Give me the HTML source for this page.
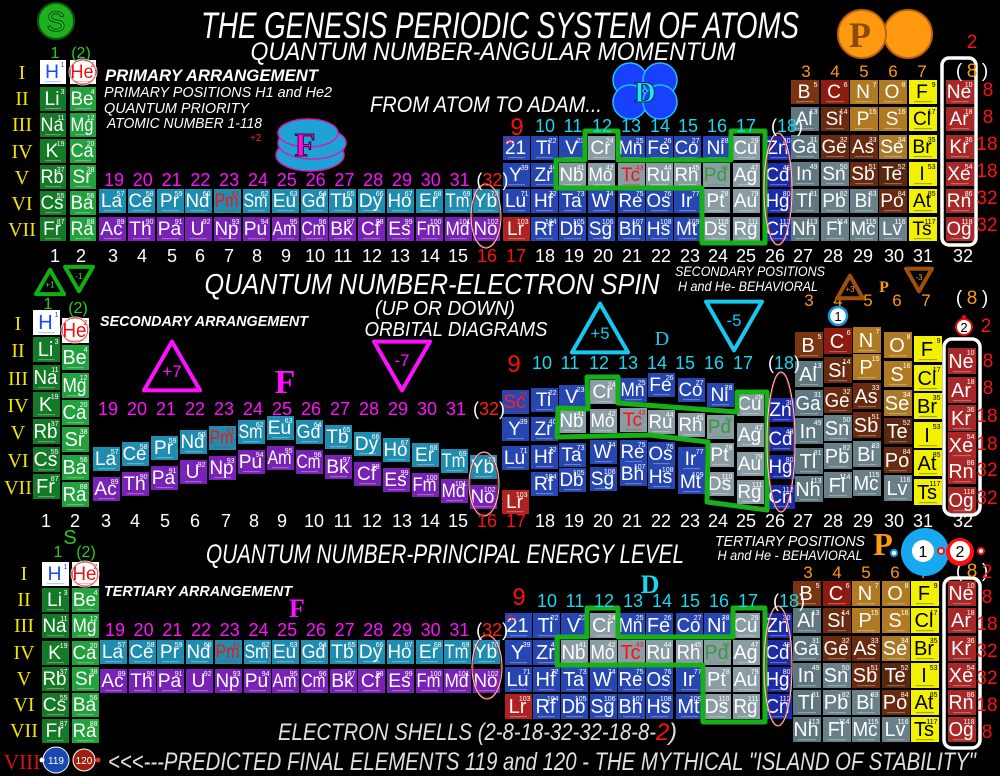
<!DOCTYPE html>
<html><head><meta charset="utf-8"><style>
html,body{margin:0;padding:0;background:#000;width:1000px;height:776px;overflow:hidden}
svg{display:block}
</style></head><body>
<svg id="s" xmlns="http://www.w3.org/2000/svg" width="1000" height="776" viewBox="0 0 1000 776">
<rect width="1000" height="776" fill="#000"/>
<g id="deco"></g>
<g id="cells"></g>
<g id="over"></g>
</svg>
<script>
var NS="http://www.w3.org/2000/svg";
var cells=document.getElementById('cells'),over=document.getElementById('over'),deco=document.getElementById('deco');
function el(p,n,a){var e=document.createElementNS(NS,n);for(var k in a)e.setAttribute(k,a[k]);p.appendChild(e);return e;}
function T(x,y,s,sz,fill,o){o=o||{};var a={x:x,y:y,'font-size':sz,fill:fill,'font-family':o.f||'"Liberation Sans",sans-serif','text-anchor':o.a||'start'};
 if(o.i)a['font-style']='italic';if(o.b)a['font-weight']='bold';if(o.w){a.textLength=o.w;a.lengthAdjust='spacingAndGlyphs';}
 if(o.st){a.stroke=o.st;a['stroke-width']=o.sw||1;}
 var e=el(o.p||over,'text',a);e.textContent=s;return e;}
var G1=[['H',1],['Li',3],['Na',11],['K',19],['Rb',37],['Cs',55],['Fr',87]];
var G2=[['He',2],['Be',4],['Mg',12],['Ca',20],['Sr',38],['Ba',56],['Ra',88]];
var LAN=['La','Ce','Pr','Nd','Pm','Sm','Eu','Gd','Tb','Dy','Ho','Er','Tm','Yb'];
var ACT=['Ac','Th','Pa','U','Np','Pu','Am','Cm','Bk','Cf','Es','Fm','Md','No'];
var D=[['Sc','Y','Lu','Lr'],['Ti','Zr','Hf','Rf'],['V','Nb','Ta','Db'],['Cr','Mo','W','Sg'],['Mn','Tc','Re','Bh'],['Fe','Ru','Os','Hs'],['Co','Rh','Ir','Mt'],['Ni','Pd','Pt','Ds'],['Cu','Ag','Au','Rg'],['Zn','Cd','Hg','Cn']];
var DN=[[21,39,71,103],[22,40,72,104],[23,41,73,105],[24,42,74,106],[25,43,75,107],[26,44,76,108],[27,45,77,109],[28,46,78,110],[29,47,79,111],[30,48,80,112]];
var GREY={Cr:1,Cu:1,Nb:1,Mo:1,Tc:1,Ru:1,Rh:1,Pd:1,Ag:1,Pt:1,Au:1,Ds:1,Rg:1};
var P=[['B','Al','Ga','In','Tl','Nh'],['C','Si','Ge','Sn','Pb','Fl'],['N','P','As','Sb','Bi','Mc'],['O','S','Se','Te','Po','Lv'],['F','Cl','Br','I','At','Ts'],['Ne','Ar','Kr','Xe','Rn','Og']];
var PN=[[5,13,31,49,81,113],[6,14,32,50,82,114],[7,15,33,51,83,115],[8,16,34,52,84,116],[9,17,35,53,85,117],[10,18,36,54,86,118]];
var PC={B:'#7a3410',C:'#8c1c10',N:'#b07a22',O:'#b07a22',F:'#f2f200',Ne:'#a82828',Al:'#5f7880',Si:'#6a2a10',P:'#b07a22',S:'#b07a22',Cl:'#f2f200',Ar:'#a82828',
Ga:'#5f7880',Ge:'#6a2a10',As:'#6a2a10',Se:'#a87a2a',Br:'#f2f200',Kr:'#a82828',In:'#5f7880',Sn:'#6a8088',Sb:'#6a2a10',Te:'#5a2810',I:'#f2f200',Xe:'#a82828',
Tl:'#5f7880',Pb:'#6a8088',Bi:'#6a8088',Po:'#6a2a10',At:'#f2f200',Rn:'#a82828',Nh:'#5f7880',Fl:'#6a8088',Mc:'#6a8088',Lv:'#6a8088',Ts:'#f2f200',Og:'#a82828'};
function cell(x,y,w,h,sym,num,bg,tc){
 el(cells,'rect',{x:x,y:y,width:w,height:h,fill:bg});
 var fs=Math.min(20,h*0.8);
 var t=T(x+w/2-1,y+h*0.76,sym,fs,tc||'#fff',{a:'middle',p:cells});
 var L=0;try{L=t.getComputedTextLength();}catch(e){}
 if(L>w-3){t.setAttribute('textLength',w-3);t.setAttribute('lengthAdjust','spacingAndGlyphs');}
 T(x+w-1.5,y+7,String(num),7,tc||'#fff',{a:'end',p:cells});
 el(cells,'rect',{x:x+5,y:y+h-3,width:w-10,height:1.2,fill:tc||'#fff',opacity:0.3});
}
function section(S){
 for(var i=0;i<7;i++){
  var s=G1[i];cell(S.g1x,S.g1y[i],S.gw,S.gh,s[0],s[1],i==0?'#fff':'#137a25',i==0?'#1648ff':null);
  s=G2[i];cell(S.g2x,S.g2y[i],S.gw,S.gh,s[0],s[1],i==0?'#fff':'#22a23c',i==0?'#ee1111':null);
 }
 for(i=0;i<14;i++){
  cell(S.lx[i],S.ly[i],27,S.lh,LAN[i],57+i,'#1f8db0',LAN[i]=='Pm'?'#ff1010':null);
  cell(S.lx[i],S.ay[i],27,S.lh,ACT[i],89+i,'#7a22b8');
 }
 for(var c=0;c<10;c++)for(var r=0;r<4;r++){
  var sy=D[c][r],bg=GREY[sy]?'#8a9ca4':(c==9?'#1c2ca8':'#2646b2');if(sy=='Lr')bg='#b02222';
  var tc=sy=='Tc'?'#ff1010':(sy=='Pd'?'#3a9a3a':null);var lab=sy;
  if(sy=='Sc'&&S.scNum)lab='21';
  if(sy=='Sc'&&!S.scNum)tc='#ff2020';
  cell(S.dx[c],S.dy[c][r],27,S.dh,lab,S.scNum&&sy=='Sc'?'':DN[c][r],bg,tc);
  if(sy=='Sc'&&S.scNum)T(S.dx[c]+2,S.dy[c][r]+8,'Sc',8,'#ff2020',{p:cells});
 }
 for(c=0;c<6;c++)for(r=0;r<6;r++){
  sy=P[c][r];cell(S.px[c],S.py[c][r],28,S.ph,sy,PN[c][r],PC[sy],PC[sy]=='#f2f200'?'#000':null);
 }
}
function rep(a,n){var r=[];for(var i=0;i<n;i++)r.push(a);return r;}
function seq(s,d,n){var r=[];for(var i=0;i<n;i++)r.push(Math.round(s+i*d));return r;}
// TOP
section({g1x:40,g2x:70,gw:26,gh:24,g1y:[60,87,113,139,165,191,217],g2y:[60,87,113,139,165,191,217],
 lx:seq(99,28.8,14),ly:rep(189,14),ay:rep(217,14),lh:24,
 dx:[503,531,559,588,618,646,674,703,733,765],dy:rep([136,163,189,217],10),dh:24,scNum:1,
 px:[791,821,850,879,909,946],py:rep([80,107,135,162,189,217],6),ph:24});
// MIDDLE
var lt=[447,442,436,430,426,420,416,420,425,432,438,443,449,455];
section({g1x:33,g2x:62,gw:27,gh:25,g1y:seq(310,27.3,7),g2y:seq(318,27.3,7),
 lx:seq(93,29,14),ly:lt,ay:lt.map(function(v){return v+30}),lh:24,
 dx:[502,531,559,590,620,648,678,707,737,768],
 dy:[[390,417,446,490],[388,417,445,472],[385,409,443,468],[380,409,440,467],[378,408,440,462],[373,410,442,465],[378,413,447,470],[383,415,443,472],[392,423,452,480],[398,427,455,485]],dh:24,scNum:0,
 px:[795,824,853,884,914,948],py:[[332,361,390,418,448,476],[328,357,387,415,443,472],[327,354,383,412,441,470],[332,361,390,418,447,475],[336,365,393,422,450,479],[348,377,405,432,458,487]],ph:26});
// BOTTOM
section({g1x:42,g2x:72,gw:27,gh:24,g1y:seq(562,26.2,7),g2y:seq(562,26.2,7),
 lx:seq(100,28.7,14),ly:rep(640,14),ay:rep(669,14),lh:24,
 dx:[505,533,561,590,618,646,676,704,733,765],dy:rep([613,640,667,694],10),dh:25,scNum:1,
 px:[793,823,852,882,911,948],py:rep([581,608,636,663,690,717],6),ph:25});

function poly(pts,st,sw,fill){el(over,'polygon',{points:pts,fill:fill||'none',stroke:st,'stroke-width':sw,'stroke-linejoin':'round'});}
poly('585,131 618,131 618,160 731,160 731,131 765,131 765,243 702,243 702,188 556,188 556,160 585,160','#18b018',5);
poly('587,377 618,377 618,403 737,412 737,392 767,392 767,510 707,502 708,442 650,435 557,437 558,408 588,409','#18b018',5);
poly('587,608 618,608 618,637 733,637 733,608 765,608 765,722 703,722 703,665 557,665 557,637 587,637','#18b018',5);
function ell(cx,cy,rx,ry){el(over,'ellipse',{cx:cx,cy:cy,rx:rx,ry:ry,fill:'none',stroke:'#f4d0d0','stroke-width':1});el(over,'ellipse',{cx:cx,cy:cy,rx:rx-1.2,ry:ry-1,fill:'none',stroke:'#d02020','stroke-width':0.7});}
ell(486,216,15,32);ell(778,189,14,56);ell(83,72,14,13);
ell(484,484,15,32);ell(781,442,14,70);ell(75,330,14,13);
ell(487,667,15,32);ell(778,666,14,60);ell(85,574,14,13);
el(over,'rect',{x:942,y:58,width:34,height:187,rx:7,fill:'none',stroke:'#fff','stroke-width':3.5});
el(over,'rect',{x:944,y:339,width:36,height:176,rx:8,fill:'none',stroke:'#fff','stroke-width':3.5});
el(over,'rect',{x:944,y:578,width:36,height:170,rx:8,fill:'none',stroke:'#fff','stroke-width':3.5});

T(500,38,'THE GENESIS PERIODIC SYSTEM OF ATOMS',37,'#fff',{a:'middle',i:1,w:598});
T(493,60,'QUANTUM NUMBER-ANGULAR MOMENTUM',25,'#fff',{a:'middle',i:1,w:485});
T(105,81,'PRIMARY ARRANGEMENT',17,'#fff',{i:1,b:1,w:213});
T(104,97,'PRIMARY POSITIONS H1 and He2',15,'#fff',{i:1,w:228});
T(104,113,'QUANTUM PRIORITY',15,'#fff',{i:1,w:145});
T(107,128,'ATOMIC NUMBER 1-118',15,'#fff',{i:1,w:155});
T(250,141,'+2',10,'#ff2020');
T(370,112,'FROM ATOM TO ADAM...',22,'#fff',{i:1,w:232});
var RN=['I','II','III','IV','V','VI','VII'];
function roman(x,ys){for(var i=0;i<7;i++)T(x,ys[i],RN[i],20,'#f2e400',{a:'middle',f:'"Liberation Serif",serif'});}
roman(22,seq(79,26.2,7));roman(18,seq(330,27.3,7));roman(24,seq(580,26.2,7));
T(22,769,'VIII',21,'#e01010',{a:'middle',f:'"Liberation Serif",serif'});
el(over,'circle',{cx:56,cy:21,r:18,fill:'#1fb01f',stroke:'#0a5a0a','stroke-width':2});
T(56,31,'S',28,'#20e020',{a:'middle',st:'#064006',sw:1});
T(55,58,'1',16,'#20d020',{a:'middle'});T(81,58,'(2)',16,'#20d020',{a:'middle'});
el(over,'ellipse',{cx:310,cy:155,rx:34,ry:16,fill:'#1fa3d6',stroke:'#d020b0','stroke-width':1.5});
el(over,'ellipse',{cx:312,cy:143,rx:34,ry:16,fill:'#1fa3d6',stroke:'#d020b0','stroke-width':1.5});
el(over,'ellipse',{cx:308,cy:133,rx:30,ry:14,fill:'#1fa3d6',stroke:'#d020b0','stroke-width':1.5});
T(305,156,'F',34,'#ff10e0',{a:'middle',f:'"Liberation Serif",serif',b:1,st:'#300030',sw:1});
[[630,80],[660,80],[630,102],[660,102]].forEach(function(p){el(over,'circle',{cx:p[0],cy:p[1],r:17,fill:'#1840ff',stroke:'#20c0ff','stroke-width':1.5});});
T(645,102,'D',30,'#20e8f0',{a:'middle',f:'"Liberation Serif",serif',b:1,st:'#003050',sw:1});
el(over,'circle',{cx:908,cy:34,r:24,fill:'#ff9a10',stroke:'#c06010','stroke-width':2});
el(over,'circle',{cx:862,cy:34,r:24,fill:'#ff9a10',stroke:'#c06010','stroke-width':2});
T(860,47,'P',36,'#8a4a10',{a:'middle',f:'"Liberation Serif",serif',b:1});
function mag(x0,dx,y){for(var i=0;i<13;i++)T(x0+i*dx,y,String(19+i),18,'#ff10ff',{a:'middle'});
 T(x0+13*dx-9,y,'(',18,'#fff',{a:'middle'});T(x0+13*dx+4,y,'32',18,'#ff2010',{a:'middle'});T(x0+13*dx+17,y,')',18,'#fff',{a:'middle'});}
mag(114,28.8,186);mag(108,29,415);mag(115,28.7,636);
function dh(x0,y9,y){T(x0+14,y9,'9',24,'#ff1010',{a:'middle'});var xs=[545,573,602,631,660,688,717,746];
 for(var i=0;i<8;i++)T(xs[i]+(x0-503),y,String(10+i),18,'#18d8f0',{a:'middle'});
 T(774+(x0-503),y,'(',18,'#fff',{a:'middle'});T(787+(x0-503),y,'18',18,'#18d8f0',{a:'middle'});T(800+(x0-503),y,')',18,'#fff',{a:'middle'});}
dh(503,135,132);dh(500,372,369);dh(505,605,607);
function ph(xs,y,y8){var n=['3','4','5','6','7'];for(var i=0;i<5;i++)T(xs[i],y,n[i],17,'#ff9a10',{a:'middle'});
 T(959,y8,'(',19,'#fff',{a:'middle'});T(972,y8,'8',19,'#ff9a10',{a:'middle'});T(985,y8,')',19,'#fff',{a:'middle'});}
ph([806,835,864,893,922],77,77);ph([809,838,868,897,926],306,304);ph([808,837,866,895,924],578,577);
function shells(arr){arr.forEach(function(a){T(a[0],a[1],a[2],19,'#ff1010',{a:'middle'});});}
shells([[972,48,'2'],[988,96,'8'],[988,123,'8'],[987,150,'18'],[987,177,'18'],[987,204,'32'],[987,231,'32']]);
shells([[986,332,'2'],[988,367,'8'],[988,394,'8'],[987,422,'18'],[987,450,'18'],[987,476,'32'],[987,504,'32']]);
shells([[987,578,'2'],[987,603,'8'],[987,630,'18'],[987,657,'32'],[987,684,'32'],[987,711,'18'],[987,738,'8']]);
function cols(y){var xs=[55,81,113,142,172,200,229,257,286,315,343,372,400,430,458,487,516,545,574,603,632,661,690,718,746,775,803,833,863,894,923,963];
 for(var i=0;i<32;i++)T(xs[i],y,String(i+1),18,(i==15||i==16)?'#ff1010':'#fff',{a:'middle'});}
cols(262);
(function(){var xs=[46,75,106,135,165,195,226,254,282,314,343,372,402,430,458,487,516,545,574,603,632,661,690,718,746,775,803,833,863,894,923,963];
 for(var i=0;i<32;i++)T(xs[i],527,String(i+1),18,(i==15||i==16)?'#ff1010':'#fff',{a:'middle'});})();
function tri(cx,cy,s,up,col,lab,lc){var h=s*0.87,pts=up?(cx+','+(cy-h/2)+' '+(cx-s/2)+','+(cy+h/2)+' '+(cx+s/2)+','+(cy+h/2)):((cx-s/2)+','+(cy-h/2)+' '+(cx+s/2)+','+(cy-h/2)+' '+cx+','+(cy+h/2));
 poly(pts,col,4);T(cx,cy+(up?s*0.2:0),lab,s*0.3,lc||col,{a:'middle'});}
tri(50,282,28,1,'#10b010','+1','#30e030');tri(79,279,28,0,'#10b010','-1','#30e030');
T(48,309,'1',16,'#20d020',{a:'middle'});T(78,313,'(2)',16,'#20d020',{a:'middle'});
T(432,294,'QUANTUM NUMBER-ELECTRON SPIN',29,'#fff',{a:'middle',i:1,w:455});
T(445,315,'(UP OR DOWN)',20,'#fff',{a:'middle',i:1,w:140});
T(456,336,'ORBITAL DIAGRAMS',20,'#fff',{a:'middle',i:1,w:183});
T(100,326,'SECONDARY ARRANGEMENT',15,'#fff',{i:1,b:1,w:208});
T(750,276,'SECONDARY POSITIONS',14,'#fff',{a:'middle',i:1,w:150});
T(748,291,'H and He- BEHAVIORAL',14,'#fff',{a:'middle',i:1,w:140});
tri(172,366,56,1,'#ff10ff','+7');tri(402,366,56,0,'#ff10ff','-7');
T(285,393,'F',34,'#ff10ff',{a:'middle',f:'"Liberation Serif",serif',b:1});
tri(600,328,56,1,'#18c8f0','+5');tri(734,326,56,0,'#18c8f0','-5');
T(662,345,'D',20,'#18c8f0',{a:'middle',f:'"Liberation Serif",serif'});
tri(850,287,26,1,'#a0500a','+3','#ff9a10');tri(919,280,26,0,'#a0500a','-3','#ff9a10');
T(884,292,'P',16,'#ff9a10',{a:'middle',f:'"Liberation Serif",serif',b:1});
el(over,'circle',{cx:838,cy:316,r:9,fill:'#fff',stroke:'#1890e0','stroke-width':2.5});T(838,321,'1',13,'#000',{a:'middle'});
el(over,'circle',{cx:964,cy:327,r:8,fill:'#fff',stroke:'#e01010','stroke-width':2});T(964,332,'2',13,'#000',{a:'middle'});
el(over,'circle',{cx:964,cy:317,r:2,fill:'#e01010'});
T(70,544,'S',20,'#20d020',{a:'middle'});
T(58,557,'1',16,'#20d020',{a:'middle'});T(86,557,'(2)',16,'#20d020',{a:'middle'});
T(445,563,'QUANTUM NUMBER-PRINCIPAL ENERGY LEVEL',27,'#fff',{a:'middle',i:1,w:478});
T(104,596,'TERTIARY ARRANGEMENT',15,'#fff',{i:1,b:1,w:188});
T(790,546,'TERTIARY POSITIONS',15,'#fff',{a:'middle',i:1,w:150});
T(790,560,'H and He - BEHAVIORAL',14,'#fff',{a:'middle',i:1,w:145});
T(883,555,'P',32,'#ff9a10',{a:'middle',f:'"Liberation Serif",serif',b:1});
el(over,'circle',{cx:894,cy:553,r:3,fill:'#fff',stroke:'#18a0f0','stroke-width':2});
el(over,'circle',{cx:925,cy:552,r:24,fill:'#18a8f0'});el(over,'circle',{cx:923,cy:551,r:11,fill:'#fff'});T(923,557,'1',16,'#000',{a:'middle'});
el(over,'circle',{cx:960,cy:552,r:14,fill:'#ff1010'});el(over,'circle',{cx:960,cy:551,r:10,fill:'#fff'});T(960,557,'2',16,'#000',{a:'middle'});
el(over,'circle',{cx:941,cy:551,r:3,fill:'#fff',stroke:'#ff1010','stroke-width':2});el(over,'circle',{cx:981,cy:551,r:3,fill:'#fff',stroke:'#ff1010','stroke-width':2});
T(297,617,'F',26,'#ff10ff',{a:'middle',f:'"Liberation Serif",serif',b:1});
T(650,593,'D',26,'#18d8f0',{a:'middle',f:'"Liberation Serif",serif',b:1});
T(278,740,'ELECTRON SHELLS (2-8-18-32-32-18-8-',24,'#e0e0e0',{i:1,w:378});
T(656,740,'2',24,'#ff1010',{i:1});T(669,740,')',24,'#e0e0e0',{i:1});
el(over,'circle',{cx:56,cy:760,r:13,fill:'#1848b0',stroke:'#fff','stroke-width':1});T(56,764,'119',10,'#fff',{a:'middle'});
el(over,'circle',{cx:84,cy:760,r:11,fill:'#a02010',stroke:'#fff','stroke-width':1});T(84,764,'120',10,'#fff',{a:'middle'});
el(over,'circle',{cx:42,cy:760,r:2.5,fill:'#fff'});el(over,'circle',{cx:98,cy:760,r:2.5,fill:'#e03020'});
T(108,770,'<<<---PREDICTED FINAL ELEMENTS 119 and 120 - THE MYTHICAL "ISLAND OF STABILITY"',25,'#e0e0e0',{i:1,w:868});
</script>
</body></html>
